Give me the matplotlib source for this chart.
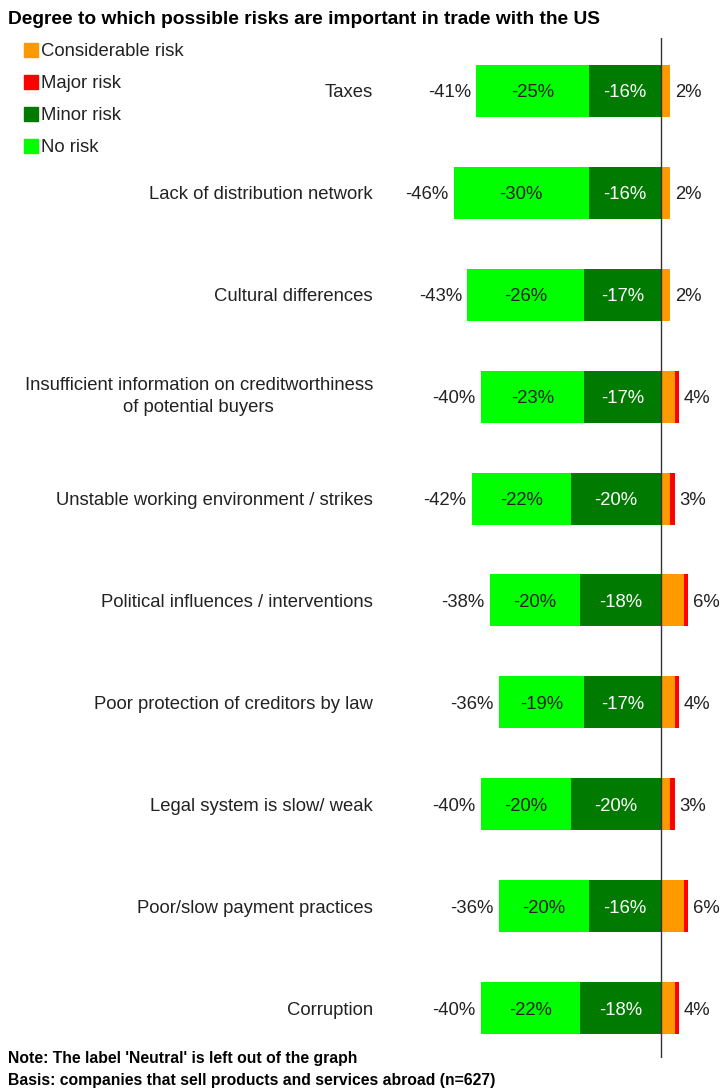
import matplotlib.pyplot as plt
import numpy as np

plt.rcParams['font.family'] = ['Liberation Sans', 'DejaVu Sans']

categories = [
    "Taxes",
    "Lack of distribution network",
    "Cultural differences",
    "Insufficient information on creditworthiness\nof potential buyers",
    "Unstable working environment / strikes",
    "Political influences / interventions",
    "Poor protection of creditors by law",
    "Legal system is slow/ weak",
    "Poor/slow payment practices",
    "Corruption",
]
no_risk = [-25, -30, -26, -23, -22, -20, -19, -20, -20, -22]
minor_risk = [-16, -16, -17, -17, -20, -18, -17, -20, -16, -18]
considerable_risk = [2, 2, 2, 3, 2, 5, 3, 2, 5, 3]
major_risk = [0, 0, 0, 1, 1, 1, 1, 1, 1, 1]
total_neg = [-41, -46, -43, -40, -42, -38, -36, -40, -36, -40]
total_pos = [2, 2, 2, 4, 3, 6, 4, 3, 6, 4]

c_cons = "#ff9900"
c_major = "#ff0000"
c_minor = "#007a00"
c_no = "#00ff00"

W, H = 723, 1088
fig = plt.figure(figsize=(W / 100, H / 100), dpi=100)
ax = fig.add_axes([0, (H - 1058) / H, 1, (1058 - 38) / H])

px_per = 4.51
zero_px = 661
ax.set_xlim(-zero_px / px_per, (W - zero_px) / px_per)
ax.set_ylim(9.49, -0.52)
ax.axis("off")

y = np.arange(len(categories))
h = 0.51
minor = np.array(minor_risk)
ax.barh(y, minor, height=h, color=c_minor)
ax.barh(y, no_risk, left=minor, height=h, color=c_no)
ax.barh(y, considerable_risk, height=h, color=c_cons)
ax.barh(y, major_risk, left=considerable_risk, height=h, color=c_major)
ax.axvline(0, color="#333333", lw=1)

fs = 13.3
off = 5 / px_per
vc = "center_baseline"
for i in range(len(categories)):
    ax.text(minor[i] / 2, i, f"{minor_risk[i]}%", ha="center", va=vc,
            color="white", fontsize=fs)
    ax.text(minor[i] + no_risk[i] / 2, i, f"{no_risk[i]}%", ha="center",
            va=vc, color="#222222", fontsize=fs)
    ax.text(total_neg[i] - off, i, f"{total_neg[i]}%", ha="right",
            va=vc, color="#222222", fontsize=fs)
    ax.text(total_pos[i] + off, i, f"{total_pos[i]}%", ha="left",
            va=vc, color="#222222", fontsize=fs)
    lab_va = "center" if "\n" in categories[i] else vc
    ax.text((373 - zero_px) / px_per, i, categories[i], ha="right",
            va=lab_va, multialignment="center", color="#222222",
            fontsize=fs, linespacing=1.35)

fig.text(8 / W, 1 - 17 / H, "Degree to which possible risks are important in trade with the US",
         fontsize=13.75, fontweight="bold", va=vc, ha="left")

legend_items = [("Considerable risk", c_cons), ("Major risk", c_major),
                ("Minor risk", c_minor), ("No risk", c_no)]
for k, (lab, col) in enumerate(legend_items):
    yy = 50 + 32 * k
    fig.patches.append(plt.Rectangle((24 / W, 1 - (yy + 7) / H), 14 / W, 14 / H,
                                     transform=fig.transFigure, color=col))
    fig.text(41 / W, 1 - yy / H, lab, fontsize=fs, va=vc, ha="left",
             color="#222222")

fig.text(8 / W, 1 - 1057 / H, "Note: The label 'Neutral' is left out of the graph",
         fontsize=11.3, fontweight="bold", va=vc, ha="left")
fig.text(8 / W, 1 - 1079 / H, "Basis: companies that sell products and services abroad (n=627)",
         fontsize=11.3, fontweight="bold", va=vc, ha="left")

fig.savefig("out.png", dpi=100)
